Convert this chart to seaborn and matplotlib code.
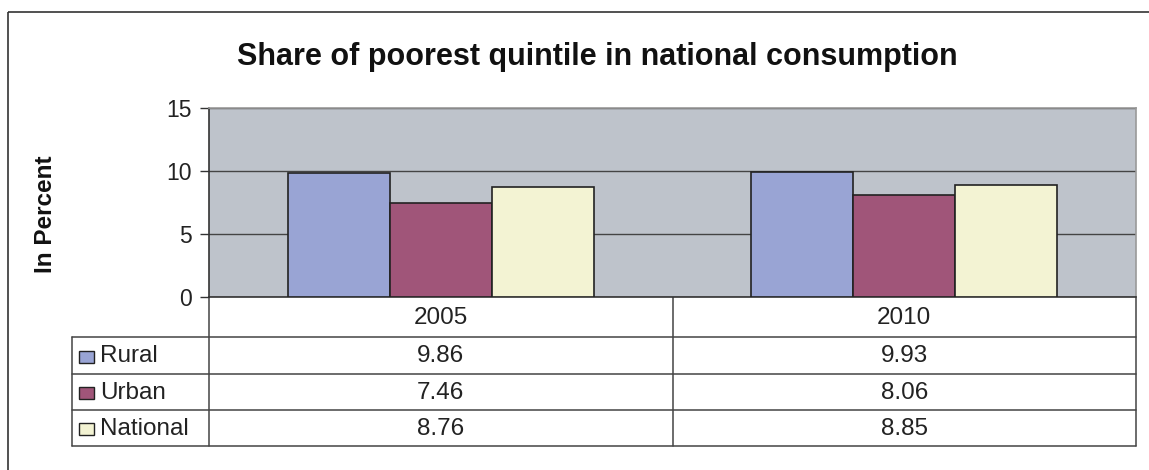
import matplotlib
matplotlib.use('Agg')
import matplotlib.pyplot as plt
import matplotlib.transforms as mtransforms
from matplotlib.patches import Rectangle
import pandas as pd
import seaborn as sns

# Data
years = ['2005', '2010']
series = ['Rural', 'Urban', 'National']
rural = [9.86, 9.93]
urban = [7.46, 8.06]
national = [8.76, 8.85]
colors = ['#99A4D4', '#A05579', '#F3F3D3']

df = pd.DataFrame({
    'year': years * 3,
    'area': ['Rural'] * 2 + ['Urban'] * 2 + ['National'] * 2,
    'share': rural + urban + national,
})

sns.set_style('white')
plt.rcParams['font.family'] = ['Liberation Sans', 'DejaVu Sans']

W, H = 1149, 470
fig = plt.figure(figsize=(W / 100, H / 100), dpi=100)

# overlay axes in pixel coordinates for the frame and data table
ov = fig.add_axes([0, 0, 1, 1])
ov.set_xlim(0, W)
ov.set_ylim(H, 0)
ov.axis('off')

# plot area
left, right, top, bottom = 209, 1136, 108, 297
ax = fig.add_axes([left / W, 1 - bottom / H, (right - left) / W, (bottom - top) / H])
ax.set_facecolor('#BEC3CB')
sns.barplot(data=df, x='year', y='share', hue='area', hue_order=series,
            palette=colors, saturation=1, width=0.66, edgecolor='#222222',
            linewidth=1.2, legend=False, ax=ax, zorder=3)
ax.set_ylim(0, 15)
ax.set_xlim(-0.5, 1.5)
ax.set_yticks([0, 5, 10, 15])
ax.yaxis.grid(True, color='#444444', linewidth=1)
ax.set_axisbelow(True)
ax.tick_params(axis='y', length=6.5, width=1, color='#333333', labelsize=16.5,
               pad=6, left=True, labelcolor='#222222')
ax.set_xticks([])
ax.set_xlabel('')
ax.set_ylabel('')
for s in ['left', 'bottom']:
    ax.spines[s].set_color('#333333')
    ax.spines[s].set_linewidth(1.2)
for s in ['top', 'right']:
    ax.spines[s].set_color('#999999')
    ax.spines[s].set_linewidth(1.2)

# outer chart frame
ov.add_patch(Rectangle((8, 12), 1160, 480, fill=False, edgecolor='#333333',
                       linewidth=1.2, clip_on=False))

ov.text(597, 57, 'Share of poorest quintile in national consumption',
        ha='center', va='center', fontsize=22, fontweight='bold', color='#111111')
ov.text(46, 214, 'In Percent', rotation=90, ha='center', va='center',
        fontsize=17.5, fontweight='bold', color='#111111')

# data table
line_kw = dict(color='#444444', linewidth=1.1)
row_y = [297, 337, 374, 410, 446]
tab_left = 72
mid = (ax.transData.transform((0.5, 0))[0])
for y in row_y[1:]:
    ov.plot([tab_left, right], [y, y], **line_kw)
ov.plot([tab_left, tab_left], [row_y[1], row_y[-1]], **line_kw)
ov.plot([left, left], [row_y[0], row_y[-1]], **line_kw)
ov.plot([mid, mid], [row_y[0], row_y[-1]], **line_kw)
ov.plot([right, right], [row_y[0], row_y[-1]], **line_kw)

bt = mtransforms.blended_transform_factory(ax.transData, ov.transData)
for i, yr in enumerate(years):
    ax.text(i, (row_y[0] + row_y[1]) / 2 + 1, yr, transform=bt, ha='center',
            va='center', fontsize=17.5, color='#222222', clip_on=False)

values = [rural, urban, national]
for r, (name, col, vals) in enumerate(zip(series, colors, values)):
    yc = (row_y[r + 1] + row_y[r + 2]) / 2 + 1
    ov.add_patch(Rectangle((79, yc - 6), 15, 12, facecolor=col,
                           edgecolor='#222222', linewidth=1))
    ov.text(100, yc, name, ha='left', va='center', fontsize=17.5, color='#222222')
    for i, v in enumerate(vals):
        ax.text(i, yc, f'{v:.2f}', transform=bt, ha='center', va='center',
                fontsize=17.5, color='#222222', clip_on=False)

fig.savefig('out.png', dpi=100, facecolor='white')
